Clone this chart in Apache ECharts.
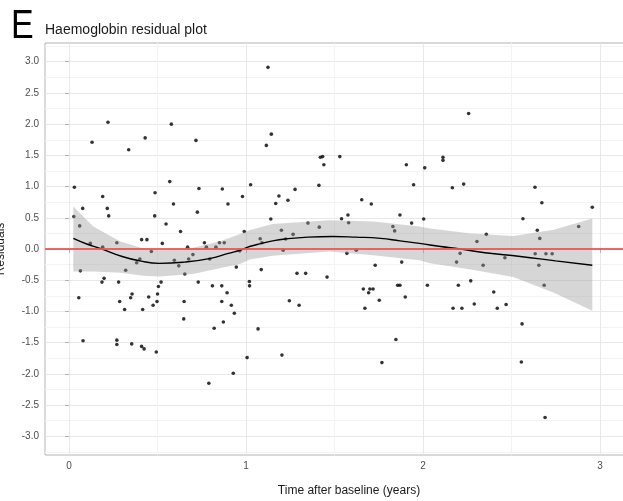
<!DOCTYPE html>
<html>
<head>
<meta charset="utf-8">
<script src="https://cdn.jsdelivr.net/npm/echarts@6/dist/echarts.min.js"></script>
<style>
  html, body { margin: 0; padding: 0; background: #fff; }
  #chart { width: 623px; height: 501px; }
</style>
</head>
<body>
<div id="chart"></div>
<script>
// residual points [time (years), residual]
var points = [
  [0.030, 0.99], [0.027, 0.52], [0.060, 0.37], [0.077, 0.65], [0.130, 1.71], [0.220, 2.03],
  [0.190, 0.84], [0.216, 0.65], [0.224, 0.53], [0.120, 0.09], [0.190, 0.03], [0.270, 0.10],
  [0.337, 1.59], [0.430, 1.78], [0.410, 0.15], [0.440, 0.15], [0.486, 0.90], [0.484, 0.53],
  [0.527, 0.09], [0.548, 0.40], [0.569, 1.08], [0.578, 2.00], [0.590, 0.72], [0.630, 0.28],
  [0.670, 0.03], [0.717, 1.74], [0.734, 0.97], [0.725, 0.59], [0.765, 0.10], [0.776, 0.03],
  [0.830, 0.03], [0.850, 0.10], [0.877, 0.10], [0.866, 0.96], [0.898, 0.72],
  [0.980, 0.84], [1.026, 1.03], [0.990, 0.28], [1.124, 2.91], [1.143, 1.84], [1.115, 1.66],
  [1.140, 0.48], [1.080, 0.165], [1.090, 0.10], [1.168, 0.73], [1.186, 0.85], [1.200, 0.30],
  [1.224, 0.16], [1.237, 0.78], [1.266, 0.235], [1.277, 0.955], [1.350, 0.415], [1.412, 1.02],
  [1.414, 0.35], [1.420, 1.47], [1.433, 1.48], [1.440, 1.35], [1.530, 1.48], [1.540, 0.485],
  [1.576, 0.544], [1.580, 0.42], [1.654, 0.79], [1.708, 0.72], [1.830, 0.36], [1.840, 0.29],
  [1.870, 0.544], [1.906, 1.35], [1.947, 1.03], [1.936, 0.415],
  [2.004, 0.48], [2.010, 1.30], [2.113, 1.47], [2.113, 1.42], [2.166, 0.98], [2.230, 1.04],
  [2.258, 2.17], [2.305, 0.12], [2.358, 0.235], [2.565, 0.485], [2.633, 0.99], [2.672, 0.74],
  [2.646, 0.30], [2.660, 0.17], [2.880, 0.36], [2.957, 0.67],
  [0.064, -0.35], [0.055, -0.78], [0.079, -1.47], [0.186, -0.53], [0.198, -0.47], [0.280, -0.53],
  [0.320, -0.34], [0.286, -0.84], [0.314, -0.97], [0.270, -1.46], [0.270, -1.53], [0.354, -1.52],
  [0.348, -0.78], [0.356, -0.72], [0.382, -0.22], [0.400, -0.16], [0.416, -0.97], [0.410, -1.56],
  [0.424, -1.60], [0.465, -0.04], [0.450, -0.77], [0.475, -0.90], [0.497, -0.84], [0.500, -0.72],
  [0.505, -0.60], [0.520, -0.53], [0.493, -1.65], [0.595, -0.18], [0.620, -0.27], [0.654, -0.40],
  [0.650, -0.84], [0.648, -1.12], [0.676, -0.16], [0.700, -0.09], [0.730, -0.53], [0.795, -0.16],
  [0.810, -0.59], [0.820, -1.27], [0.790, -2.15], [0.863, -0.59], [0.863, -0.84], [0.893, -0.70],
  [0.872, -1.17], [0.917, -0.90], [0.934, -1.03], [0.928, -1.99], [0.945, -0.29], [0.965, -0.03],
  [1.006, -1.74], [1.019, -0.52], [1.020, -0.59], [1.068, -1.28], [1.086, -0.33], [1.210, -0.02],
  [1.203, -1.70], [1.245, -0.83], [1.288, -0.39], [1.300, -0.90], [1.337, -0.39], [1.458, -0.45],
  [1.570, -0.07], [1.623, -0.02], [1.663, -0.64], [1.672, -0.95], [1.693, -0.70], [1.700, -0.64],
  [1.718, -0.64], [1.730, -0.26], [1.753, -0.82], [1.768, -1.82], [1.847, -1.45], [1.857, -0.58],
  [1.870, -0.58], [1.880, -0.21], [1.900, -0.77],
  [2.025, -0.58], [2.170, -0.95], [2.220, -0.95], [2.200, -0.58], [2.190, -0.21], [2.210, -0.07],
  [2.270, -0.51], [2.290, -0.88], [2.340, -0.26], [2.400, -0.69], [2.420, -0.95], [2.463, -0.14],
  [2.470, -0.89], [2.560, -1.20], [2.556, -1.81], [2.634, -0.075], [2.655, -0.26], [2.685, -0.58],
  [2.695, -0.075], [2.730, -0.075], [2.690, -2.70]
];

// loess fit
var fitLine = [
  [0.024, 0.17], [0.10, 0.08], [0.175, 0.01], [0.30, -0.12], [0.40, -0.19], [0.51, -0.23],
  [0.65, -0.21], [0.80, -0.15], [0.90, -0.07], [0.966, -0.02], [1.02, 0.04], [1.09, 0.09],
  [1.15, 0.13], [1.22, 0.16], [1.35, 0.19], [1.49, 0.20], [1.62, 0.19], [1.76, 0.17],
  [1.87, 0.13], [1.98, 0.09], [2.10, 0.04], [2.21, 0.00], [2.35, -0.06], [2.55, -0.12],
  [2.75, -0.19], [2.957, -0.26]
];

// confidence band [x, lower, upper]
var band = [
  [0.024, -0.36, 0.68], [0.137, -0.36, 0.36], [0.29, -0.38, 0.12], [0.42, -0.43, 0.01],
  [0.51, -0.44, -0.02], [0.70, -0.40, 0.02], [0.85, -0.31, 0.12], [0.966, -0.24, 0.24],
  [1.02, -0.17, 0.30], [1.15, -0.11, 0.40], [1.47, -0.04, 0.46], [1.72, -0.10, 0.44],
  [1.98, -0.18, 0.36], [2.04, -0.23, 0.33], [2.27, -0.33, 0.25], [2.51, -0.45, 0.21],
  [2.74, -0.70, 0.31], [2.957, -0.99, 0.49]
];

var xMajor = [0, 1, 2, 3];
var xMinor = [0.5, 1.5, 2.5];
var yMajor = [-3, -2.5, -2, -1.5, -1, -0.5, 0, 0.5, 1, 1.5, 2, 2.5, 3];
var yMinor = [-3.25, -2.75, -2.25, -1.75, -1.25, -0.75, -0.25, 0.25, 0.75, 1.25, 1.75, 2.25, 2.75, 3.25];

var ink = '#1a1a1a';
var muted = '#4d4d4d';
var rule = '#b3b3b3';
var gridMajor = '#e8e8e8';
var gridMinor = '#f3f3f3';

var chart = echarts.init(document.getElementById('chart'), null, { renderer: 'canvas' });

chart.setOption({
  animation: false,
  backgroundColor: '#fff',
  textStyle: { fontFamily: 'Liberation Sans, Arial, sans-serif' },
  grid: {
    left: 45, right: -30, top: 43, bottom: 46,
    outerBoundsMode: 'none', containLabel: false,
    show: true, borderColor: rule, borderWidth: 1, backgroundColor: 'transparent'
  },
  xAxis: [
    {
      type: 'value', min: -0.136, max: 3.30,
      name: 'Time after baseline (years)', nameLocation: 'middle', nameGap: 30,
      nameTextStyle: { color: ink, fontSize: 12 },
      axisLine: { show: false },
      axisTick: { show: true, length: 4, customValues: xMajor, lineStyle: { color: rule } },
      axisLabel: { customValues: xMajor, color: muted, fontSize: 10, margin: 6 },
      splitLine: { show: true, lineStyle: { color: gridMajor, width: 1 } }
    },
    {
      type: 'value', min: -0.136, max: 3.30, position: 'top',
      axisLine: { show: false },
      axisTick: { show: false, customValues: xMinor },
      axisLabel: { show: false },
      splitLine: { show: true, lineStyle: { color: gridMinor, width: 1 } }
    }
  ],
  yAxis: [
    {
      type: 'value', min: -3.3, max: 3.3,
      name: 'Residuals', nameLocation: 'middle', nameGap: 38,
      nameTextStyle: { color: ink, fontSize: 12 },
      axisLine: { show: false },
      axisTick: { show: true, length: 4, customValues: yMajor, lineStyle: { color: rule } },
      axisLabel: {
        customValues: yMajor, color: muted, fontSize: 10, margin: 6,
        formatter: function (v) { return v.toFixed(1); }
      },
      splitLine: { show: true, lineStyle: { color: gridMajor, width: 1 } }
    },
    {
      type: 'value', min: -3.3, max: 3.3, position: 'right',
      axisLine: { show: false },
      axisTick: { show: false, customValues: yMinor },
      axisLabel: { show: false },
      splitLine: { show: true, lineStyle: { color: gridMinor, width: 1 } }
    }
  ],
  series: [
    {
      name: 'residuals', type: 'scatter', data: points,
      symbol: 'circle', symbolSize: 3.6,
      itemStyle: { color: '#000' },
      z: 2
    },
    {
      name: 'band', type: 'custom',
      data: [0],
      renderItem: function (params, api) {
        var upper = band.map(function (d) { return api.coord([d[0], d[2]]); });
        var lower = band.slice().reverse().map(function (d) { return api.coord([d[0], d[1]]); });
        return {
          type: 'polygon',
          shape: { points: upper.concat(lower) },
          style: { fill: 'rgba(153,153,153,0.4)' }
        };
      },
      silent: true,
      z: 3
    },
    {
      name: 'loess', type: 'line', data: fitLine, smooth: true,
      symbol: 'none',
      lineStyle: { color: '#000', width: 1.4 },
      z: 4
    },
    {
      name: 'zero', type: 'line', data: [],
      markLine: {
        silent: true, symbol: 'none',
        label: { show: false },
        lineStyle: { color: '#f05454', width: 2, type: 'solid', opacity: 0.9 },
        data: [{ yAxis: 0 }]
      },
      z: 5
    }
  ],
  graphic: [
    { type: 'text', left: 11, top: 7, scaleX: 0.85, style: { text: 'E', fill: '#000', font: '40px Liberation Sans' } },
    { type: 'text', left: 45, top: 23, style: { text: 'Haemoglobin residual plot', fill: ink, font: '14px Liberation Sans' } }
  ]
});
</script>
</body>
</html>
